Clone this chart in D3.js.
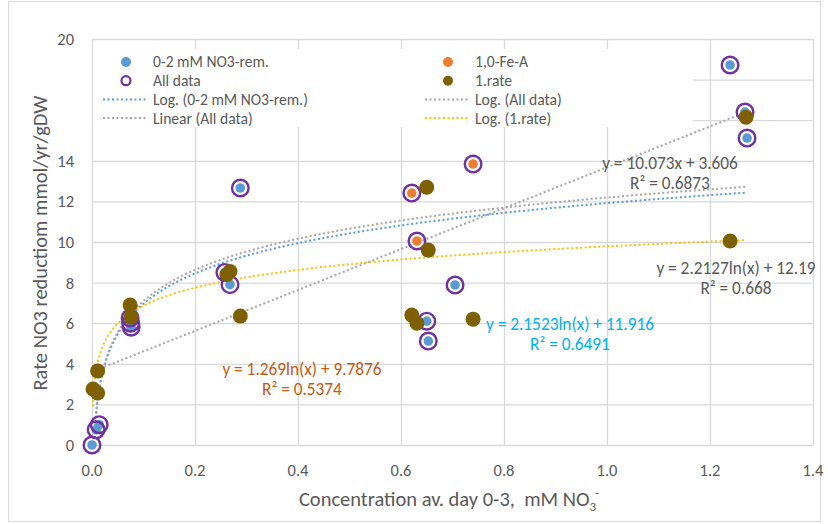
<html>
<head>
  <title>NO3 reduction</title>
  <script src="https://d3js.org/d3.v7.min.js"></script>
  <style>
    body { margin: 0; background: #fff; }
    text { font-family: Carlito, Lato, sans-serif; fill: #595959; }
  </style>
</head>
<body>
<svg id="chart" width="828" height="524"></svg>
<script>
  // series
  var remX = [0.0, 0.008, 0.014, 0.074, 0.075, 0.076, 0.258, 0.268, 0.288, 0.650, 0.653, 0.705, 1.239, 1.268, 1.272];
  var remY = [0.0, 0.75, 1.0, 6.26, 6.0, 5.8, 8.5, 7.9, 12.66, 6.1, 5.12, 7.88, 18.72, 16.4, 15.12];
  var feX = [0.621, 0.631, 0.740];
  var feY = [12.41, 10.05, 13.84];
  var rateX = [0.002, 0.011, 0.011, 0.074, 0.076, 0.262, 0.268, 0.288, 0.621, 0.631, 0.650, 0.653, 0.740, 1.239, 1.270];
  var rateY = [2.76, 2.56, 3.65, 6.9, 6.3, 8.4, 8.55, 6.35, 6.4, 6.0, 12.7, 9.6, 6.2, 10.05, 16.15];
  var allX = remX.concat(feX);
  var allY = remY.concat(feY);

  var xTicks = [0, 0.2, 0.4, 0.6, 0.8, 1.0, 1.2, 1.4];
  var yTicks = [0, 2, 4, 6, 8, 10, 12, 14, 16, 18, 20];
  var yLabels = [0, 2, 4, 6, 8, 10, 12, 14, 20];

  // trendlines as printed on the chart
  var trends = [
    { name: 'Log. (0-2 mM NO3-rem.)', color: '#5B9BD5', x0: 0.006, x1: 1.272, f: function (x) { return 2.1523 * Math.log(x) + 11.916 } },
    { name: 'Log. (All data)', color: '#A5A5A5', x0: 0.006, x1: 1.272, f: function (x) { return 2.2127 * Math.log(x) + 12.19 } },
    { name: 'Linear (All data)', color: '#A5A5A5', x0: 0.008, x1: 1.272, f: function (x) { return 10.073 * x + 3.606 } },
    { name: 'Log. (1.rate)', color: '#FFC000', x0: 0.002, x1: 1.270, f: function (x) { return 1.269 * Math.log(x) + 9.7876 } }
  ];

  var svg = d3.select('#chart');
  var xScale = d3.scaleLinear().domain([0, 1.4]).range([92, 813]);
  var yScale = d3.scaleLinear().domain([0, 20]).range([445, 39]);

  // chart border
  svg.append('rect')
    .attr('x', 8.5).attr('y', 1.5).attr('width', 812).attr('height', 520)
    .attr('fill', 'none').attr('stroke', '#D9D9D9');

  // gridlines
  svg.append('g').selectAll('line').data(yTicks).enter().append('line')
    .attr('x1', xScale(0)).attr('x2', xScale(1.4))
    .attr('y1', function (d) { return yScale(d) + 0.5 })
    .attr('y2', function (d) { return yScale(d) + 0.5 })
    .attr('stroke', '#D9D9D9').attr('stroke-width', 1.3);
  svg.append('g').selectAll('line').data(xTicks).enter().append('line')
    .attr('x1', function (d) { return xScale(d) + 0.5 })
    .attr('x2', function (d) { return xScale(d) + 0.5 })
    .attr('y1', yScale(20)).attr('y2', yScale(0))
    .attr('stroke', '#D9D9D9').attr('stroke-width', 1.3);

  // tick labels
  svg.append('g').selectAll('text').data(yLabels).enter().append('text')
    .attr('x', 74).attr('y', function (d) { return yScale(d) })
    .attr('dy', '0.36em').style('text-anchor', 'end').style('font-size', '16.5px')
    .text(function (d) { return d });
  svg.append('g').selectAll('text').data(xTicks).enter().append('text')
    .attr('x', function (d) { return xScale(d) }).attr('y', 470)
    .attr('dy', '0.36em')
    .style('text-anchor', 'middle').style('font-size', '16.5px')
    .text(function (d) { return d3.format('.1f')(d) });

  // axis titles
  svg.append('text')
    .attr('transform', 'translate(47,243) rotate(-90)')
    .style('text-anchor', 'middle').style('font-size', '20.5px')
    .text('Rate NO3 reductiom mmol/yr/gDW');
  var xt = svg.append('text')
    .attr('x', 449).attr('y', 506)
    .style('text-anchor', 'middle').style('font-size', '20.5px')
    .style('white-space', 'pre');
  xt.append('tspan').text('Concentration av. day 0-3,  mM NO');
  xt.append('tspan').attr('dy', 5).style('font-size', '13px').text('3');
  xt.append('tspan').attr('dx', -1).attr('dy', -14).style('font-size', '13px').text('-');

  // trendlines
  var line = d3.line()
    .x(function (d) { return xScale(d[0]) })
    .y(function (d) { return yScale(d[1]) });
  trends.forEach(function (t) {
    var pts = d3.range(0, 201).map(function (i) {
      var x = t.x0 * Math.pow(t.x1 / t.x0, i / 200);
      return [x, t.f(x)];
    });
    svg.append('path')
      .attr('d', line(pts))
      .attr('fill', 'none').attr('stroke', t.color)
      .attr('stroke-width', 2).attr('stroke-dasharray', '2,2.5');
  });

  // markers
  function dots(xs, ys, r, fill, stroke, sw) {
    svg.append('g').selectAll('circle').data(xs).enter().append('circle')
      .attr('cx', function (d) { return xScale(d) })
      .attr('cy', function (d, i) { return yScale(ys[i]) })
      .attr('r', r)
      .attr('fill', fill)
      .attr('stroke', stroke).attr('stroke-width', sw);
  }
  dots(remX, remY, 4.8, '#5B9BD5', 'none', 0);
  dots(feX, feY, 4.8, '#ED7D31', 'none', 0);
  dots(allX, allY, 8.3, 'none', '#7030A0', 2.4);
  dots(rateX, rateY, 7.5, '#7F6000', 'none', 0);

  // equation labels
  var labels = [
    { x: 670, y: 163, color: '#595959', lines: ['y = 10.073x + 3.606', 'R\u00b2 = 0.6873'] },
    { x: 736, y: 268, color: '#595959', lines: ['y = 2.2127ln(x) + 12.19', 'R\u00b2 = 0.668'] },
    { x: 570, y: 324, color: '#00B0F0', lines: ['y = 2.1523ln(x) + 11.916', 'R\u00b2 = 0.6491'] },
    { x: 302, y: 369, color: '#C65911', lines: ['y = 1.269ln(x) + 9.7876', 'R\u00b2 = 0.5374'] }
  ];
  labels.forEach(function (l) {
    l.lines.forEach(function (s, i) {
      svg.append('text')
        .attr('x', l.x).attr('y', l.y + i * 20).attr('dy', '0.35em')
        .style('text-anchor', 'middle').style('font-size', '17.3px')
        .style('fill', l.color).text(s);
    });
  });

  // legend
  var legend = svg.append('g');
  legend.append('rect')
    .attr('x', 93).attr('y', 49).attr('width', 600).attr('height', 78)
    .attr('fill', '#fff');
  var items = [
    { col: 0, row: 0, kind: 'dot', color: '#5B9BD5', text: '0-2 mM NO3-rem.' },
    { col: 1, row: 0, kind: 'dot', color: '#ED7D31', text: '1,0-Fe-A' },
    { col: 0, row: 1, kind: 'ring', color: '#7030A0', text: 'All data' },
    { col: 1, row: 1, kind: 'dot', color: '#7F6000', text: '1.rate' },
    { col: 0, row: 2, kind: 'line', color: '#5B9BD5', text: trends[0].name },
    { col: 1, row: 2, kind: 'line', color: '#A5A5A5', text: trends[1].name },
    { col: 0, row: 3, kind: 'line', color: '#A5A5A5', text: trends[2].name },
    { col: 1, row: 3, kind: 'line', color: '#FFC000', text: trends[3].name }
  ];
  items.forEach(function (it) {
    var x0 = it.col === 0 ? 103 : 425;
    var y0 = 62 + it.row * 18.7;
    if (it.kind === 'line') {
      legend.append('line')
        .attr('x1', x0).attr('x2', x0 + 44).attr('y1', y0).attr('y2', y0)
        .attr('stroke', it.color).attr('stroke-width', 2).attr('stroke-dasharray', '2,2.5');
    } else if (it.kind === 'ring') {
      legend.append('circle').attr('cx', x0 + 23).attr('cy', y0).attr('r', 4.5)
        .attr('fill', 'none').attr('stroke', it.color).attr('stroke-width', 2.2);
    } else {
      legend.append('circle').attr('cx', x0 + 23).attr('cy', y0).attr('r', 5)
        .attr('fill', it.color);
    }
    legend.append('text')
      .attr('x', x0 + 50).attr('y', y0).attr('dy', '0.35em')
      .style('font-size', '15.6px').text(it.text);
  });
</script>
</body>
</html>
